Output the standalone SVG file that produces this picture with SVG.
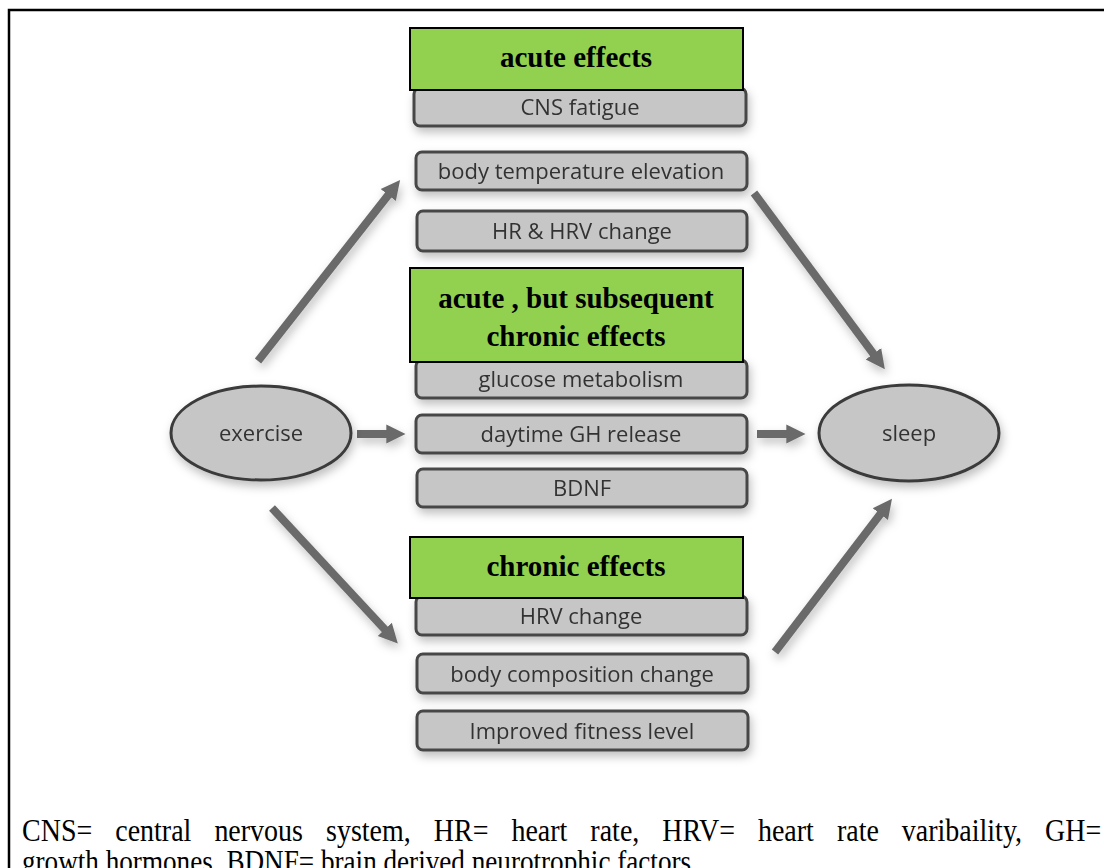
<svg xmlns="http://www.w3.org/2000/svg" width="1104" height="868" viewBox="0 0 1104 868">
<style>
.frame{fill:none;stroke:#000;stroke-width:2.5}
.box{fill:#c6c6c6;stroke:#464646;stroke-width:3}
.ell{fill:#c6c6c6;stroke:#3a3a3a;stroke-width:3}
.green{fill:#92d050;stroke:#000;stroke-width:2}
.lbl{font-family:"Open Sans","Liberation Sans",sans-serif;font-size:22px;fill:#333;text-anchor:middle}
.hdr{font-family:"Liberation Serif",serif;font-size:29px;font-weight:bold;fill:#000;text-anchor:middle}
.cap{font-family:"Liberation Serif",serif;font-size:28px;fill:#000}
.arr{stroke:#6a6a6a;stroke-width:8;fill:none}
</style>
<defs>
<marker id="ah" viewBox="0 0 10 10" refX="4" refY="5" markerWidth="2.4" markerHeight="2.6" orient="auto" markerUnits="strokeWidth">
<path d="M0,0 L10,5 L0,10 z" fill="#6a6a6a"/>
</marker>
<filter id="sh" x="-20%" y="-40%" width="140%" height="190%">
<feDropShadow dx="2" dy="5" stdDeviation="5" flood-color="#000" flood-opacity="0.25"/>
</filter>
</defs>
<rect width="1104" height="868" fill="#fff"/>
<path class="frame" d="M9,880 L9,10 L1110,10"/>

<g id="connectors" filter="url(#sh)">
<line class="arr" x1="258" y1="361" x2="393" y2="189" marker-end="url(#ah)"/>
<line class="arr" x1="754" y1="193" x2="878" y2="360" marker-end="url(#ah)"/>
<line class="arr" x1="272" y1="508" x2="390" y2="635" marker-end="url(#ah)"/>
<line class="arr" x1="775" y1="652" x2="885" y2="508" marker-end="url(#ah)"/>
<line class="arr" x1="357" y1="434" x2="394" y2="434" marker-end="url(#ah)"/>
<line class="arr" x1="757" y1="434" x2="794" y2="434" marker-end="url(#ah)"/>
</g>

<g id="exercise" filter="url(#sh)"><ellipse class="ell" cx="261" cy="433" rx="90" ry="47"/><text class="lbl" x="261" y="441">exercise</text></g>
<g id="sleep" filter="url(#sh)"><ellipse class="ell" cx="909" cy="433" rx="90" ry="48"/><text class="lbl" x="909" y="441">sleep</text></g>

<g id="cns" filter="url(#sh)"><rect class="box" x="414" y="88" width="332" height="38" rx="6"/><text class="lbl" x="580" y="115">CNS fatigue</text></g>
<g id="acute-header"><rect class="green" x="410" y="28" width="333" height="62"/><text class="hdr" x="576" y="67">acute effects</text></g>
<g id="temp" filter="url(#sh)"><rect class="box" x="416" y="152" width="331" height="38" rx="6"/><text class="lbl" x="581" y="179">body temperature elevation</text></g>
<g id="hr" filter="url(#sh)"><rect class="box" x="417" y="211" width="330" height="40" rx="6"/><text class="lbl" x="582" y="239">HR &amp; HRV change</text></g>

<g id="glucose" filter="url(#sh)"><rect class="box" x="416" y="360" width="331" height="38" rx="6"/><text class="lbl" x="581" y="387">glucose metabolism</text></g>
<g id="acute-chronic-header"><rect class="green" x="410" y="268" width="333" height="94"/><text class="hdr" x="576" y="308">acute , but subsequent</text><text class="hdr" x="576" y="346">chronic effects</text></g>
<g id="gh" filter="url(#sh)"><rect class="box" x="416" y="415" width="331" height="38" rx="6"/><text class="lbl" x="581" y="442">daytime GH release</text></g>
<g id="bdnf" filter="url(#sh)"><rect class="box" x="417" y="469" width="330" height="38" rx="6"/><text class="lbl" x="582" y="496">BDNF</text></g>

<g id="hrv" filter="url(#sh)"><rect class="box" x="416" y="596" width="331" height="39" rx="6"/><text class="lbl" x="581" y="624">HRV change</text></g>
<g id="chronic-header"><rect class="green" x="410" y="537" width="333" height="61"/><text class="hdr" x="576" y="576">chronic effects</text></g>
<g id="bodycomp" filter="url(#sh)"><rect class="box" x="417" y="654" width="331" height="39" rx="6"/><text class="lbl" x="582" y="682">body composition change</text></g>
<g id="fitness" filter="url(#sh)"><rect class="box" x="417" y="711" width="331" height="39" rx="6"/><text class="lbl" x="582" y="739">Improved fitness level</text></g>

<g id="caption">
<text class="cap" transform="translate(22,841) scale(1,1.12)" x="0" y="0" style="word-spacing:16px">CNS= central nervous system, HR= heart rate, HRV= heart rate varibaility, GH=</text>
<text class="cap" transform="translate(22,872) scale(0.97,1.12)" x="0" y="0">growth hormones. BDNF= brain derived neurotrophic factors</text>
</g>
</svg>
